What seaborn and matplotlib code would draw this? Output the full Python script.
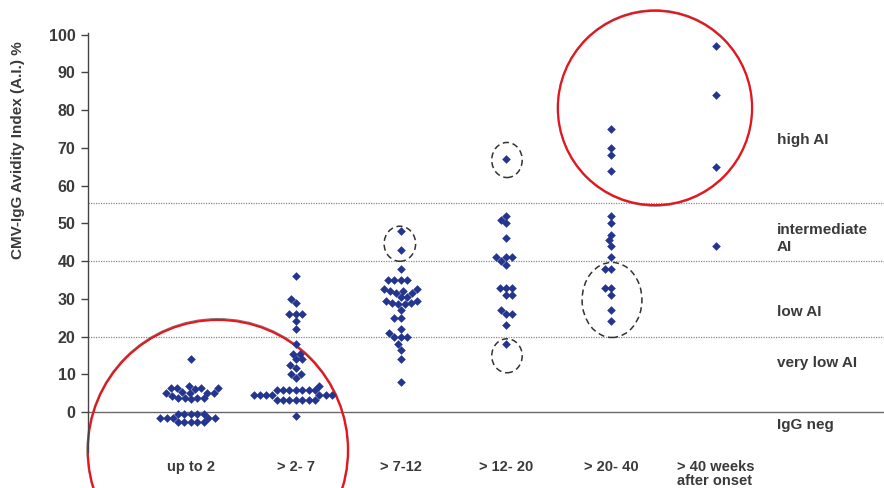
import matplotlib.pyplot as plt
import pandas as pd
import seaborn as sns
from matplotlib.patches import Ellipse

groups = ['up to 2', '> 2- 7', '> 7-12', '> 12- 20', '> 20- 40',
          '> 40 weeks\nafter onset']

ai_up_to_2 = [14,
              6.3, 5, 3.7, 6.3, 5, 3.7, 6.3, 5, 3.7, 6.3, 5, 3.7,
              7, 6.1, 5.2, 4.3, 3.4,
              -0.5, -1.6, -2.7, -0.5, -1.6, -2.7, -0.5, -1.6, -2.7,
              -0.5, -1.6, -2.7, -0.5, -1.6, -2.7]
ai_2_7 = [36, 30, 29, 26, 26, 26, 24, 22, 18, 15.5, 15.5, 14, 14, 12.5, 11.7,
          10, 10, 9, 7,
          5.8, 4.5, 3.3, 5.8, 4.5, 3.3, 5.8, 4.5, 3.3, 5.8, 4.5, 3.3,
          5.8, 4.5, 3.3, 5.8, 4.5, 3.3, 5.8, 4.5, 3.3,
          -1]
ai_7_12 = [48, 43, 38, 35, 35, 35, 35, 32, 32, 29, 29,
           32.5, 31.5, 30.5, 29.5, 28.5, 32.5, 31.5, 30.5, 29.5, 28.5,
           27, 25, 25, 22, 21, 20, 20, 20, 18, 16.5, 14, 8]
ai_12_20 = [67, 52, 51, 50, 46, 41, 41, 41, 40, 39, 33, 33, 33, 31, 31,
            26, 27, 26, 23, 18]
ai_20_40 = [75, 70, 68, 64, 52, 50, 47, 45.5, 44, 41, 38, 38, 33, 33, 31,
            27, 24]
ai_over_40 = [97, 84, 65, 44]

zone_labels = ['high AI', 'intermediate\nAI', 'low AI', 'very low AI', 'IgG neg']
zone_label_y = [72, 46, 26.5, 13, -3.5]
cut_offs = [55.5, 40, 20]

all_values = [ai_up_to_2, ai_2_7, ai_7_12, ai_12_20, ai_20_40, ai_over_40]
df = pd.DataFrame({
    'group': [g for g, vals in zip(groups, all_values) for _ in vals],
    'ai': [v for vals in all_values for v in vals],
})

sns.set_style('white')
plt.rcParams['font.family'] = ['Liberation Sans', 'DejaVu Sans']
txt = '#3a3a3a'

fig = plt.figure(figsize=(8.84, 4.88), dpi=100)
ax = fig.add_axes([0.0995, 0.0746, 0.9005, 0.858])

sns.swarmplot(data=df, x='group', y='ai', order=groups, marker='D', size=4.4,
              color='#24358f', linewidth=0, ax=ax, warn_thresh=1)

ax.set_xlim(-0.98, 6.6)
ax.set_ylim(-10.5, 100.5)
ax.set_yticks(range(0, 101, 10))

for c in cut_offs:
    ax.axhline(c, color='#8a8a8a', lw=0.9, ls=(0, (1, 1)), zorder=0)
ax.axhline(0, color='#6a6a6a', lw=1.0, zorder=0)

for lab, y in zip(zone_labels, zone_label_y):
    ax.text(5.58, y, lab, fontsize=11, fontweight='bold', color=txt,
            va='center', ha='left', linespacing=1.35)

# dashed marks around outliers
for (cx, cy, w, h) in [(1.99, 44.6, 0.3, 9.3), (3.01, 66.8, 0.29, 9.3),
                       (3.01, 14.9, 0.29, 9.0), (4.01, 29.7, 0.57, 19.9)]:
    ax.add_patch(Ellipse((cx, cy), w, h, fill=False, ec='#333333', lw=1.1,
                         ls=(0, (4, 2.5))))

# red circles
for (cx, cy, w, h) in [(0.257, -10.1, 2.476, 69), (4.419, 80.6, 1.848, 51.5)]:
    ax.add_patch(Ellipse((cx, cy), w * 1.006, h * 1.01, fill=False,
                         ec='#777777', lw=0.9, clip_on=False))
    ax.add_patch(Ellipse((cx, cy), w, h, fill=False,
                         ec='#f01018', lw=1.5, clip_on=False))

sns.despine(ax=ax, top=True, right=True, bottom=True)
ax.spines['left'].set_color('#444444')
ax.spines['left'].set_linewidth(1.0)
ax.tick_params(axis='y', left=True, length=5, width=1, color='#444444',
               labelsize=11.5, labelcolor=txt, pad=4)
ax.tick_params(axis='x', bottom=False, length=0, labelsize=10.5,
               labelcolor=txt, pad=6)
for t in ax.get_yticklabels() + ax.get_xticklabels():
    t.set_fontweight('bold')
for t in ax.get_xticklabels():
    t.set_multialignment('left')
    t.set_verticalalignment('top')
    t.set_linespacing(1.0)

ax.set_xlabel('')
ax.set_ylabel('CMV-IgG Avidity Index (A.I.) %', fontsize=11,
              fontweight='bold', color=txt)
ax.yaxis.set_label_coords(-0.079, 0.72)

fig.savefig('out.png', dpi=100)
